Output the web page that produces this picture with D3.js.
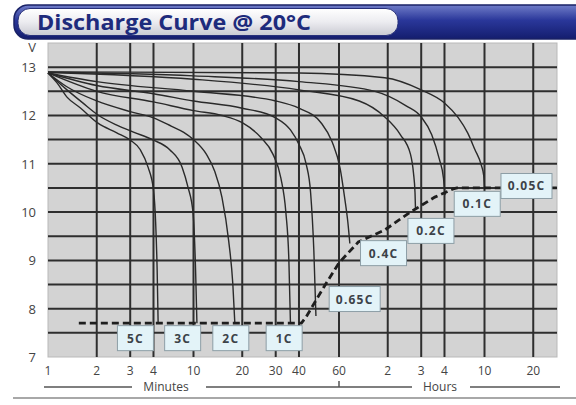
<!DOCTYPE html>
<html>
<head>
<meta charset="utf-8">
<script src="https://cdn.jsdelivr.net/npm/d3@7"></script>
<style>
  body { margin: 0; background: #fff; }
  svg { display: block; font-family: "Open Sans", "DejaVu Sans", sans-serif; }
</style>
</head>
<body>
<svg width="576" height="405"></svg>
<script>
// time axis ticks, in minutes
var xTickMinutes = [1, 2, 3, 4, 10, 20, 30, 40, 60, 120, 180, 240, 600, 1200];
var xTickLabels = ['1', '2', '3', '4', '10', '20', '30', '40', '60', '2', '3', '4', '10', '20'];
var yTicks = [7, 8, 9, 10, 11, 12, 13];

// discharge rates and curves: [minutes, volts]
var rates = ['5C', '3C', '2C', '1C', '0.65C', '0.4C', '0.2C', '0.1C', '0.05C'];
var curve5C = [[1, 12.88], [1.14, 12.67], [1.31, 12.38], [1.58, 12.16], [2.03, 11.84], [2.55, 11.64], [3, 11.49], [3.4, 11.29], [3.74, 10.93], [4, 10.46], [4.2, 9.8], [4.35, 8.8], [4.45, 7.7]];
var curve3C = [[1, 12.88], [1.31, 12.53], [1.64, 12.26], [2.03, 12.01], [2.55, 11.8], [3.1, 11.66], [4, 11.49], [5.8, 11.29], [7.7, 10.93], [8.8, 10.52], [9.9, 9.98], [10.3, 8.8], [10.5, 7.7]];
var curve2C = [[1, 12.88], [1.3, 12.6], [2, 12.3], [3, 12.08], [4, 11.95], [6, 11.78], [8, 11.65], [10, 11.5], [12, 11.2], [13.5, 10.85], [15, 10.3], [16.5, 9.4], [17.5, 8.5], [18, 7.7]];
var curve1C = [[1, 12.88], [2, 12.5], [4, 12.28], [10, 12.1], [15, 12.0], [20, 11.85], [25, 11.55], [29, 11.2], [32, 10.7], [34, 10.0], [35.3, 9.0], [36, 7.7]];
var curve065C = [[1, 12.88], [2, 12.62], [4, 12.45], [10, 12.3], [20, 12.15], [30, 11.95], [36, 11.7], [40, 11.4], [43, 11.0], [45, 10.4], [46.5, 9.2], [47.5, 7.85]];
var curve04C = [[1, 12.88], [2, 12.7], [10, 12.5], [30, 12.3], [40, 12.15], [50, 11.85], [56, 11.45], [61, 10.9], [65, 10.3], [68, 9.8], [70, 9.35]];
var curve02C = [[1, 12.89], [10, 12.75], [40, 12.53], [80, 12.3], [115, 11.97], [140, 11.6], [158, 11.2], [164, 10.8], [167, 10.4], [168, 10.05]];
var curve01C = [[1, 12.9], [10, 12.82], [40, 12.7], [100, 12.5], [150, 12.2], [180, 11.97], [205, 11.6], [225, 11.1], [237, 10.7], [243, 10.35]];
var curve005C = [[1, 12.9], [40, 12.88], [115, 12.78], [180, 12.53], [240, 12.26], [330, 11.95], [408, 11.64], [480, 11.3], [558, 10.97], [590, 10.75], [600, 10.5]];
var curves = [curve5C, curve3C, curve2C, curve1C, curve065C, curve04C, curve02C, curve01C, curve005C];

// end-of-discharge (dashed) line
var endLine = [[1.55, 7.7], [41, 7.7], [43, 7.83], [51.5, 8.45], [60, 8.95], [79, 9.38], [115, 9.63], [158, 10.0], [213, 10.31], [293, 10.48], [320, 10.5], [1700, 10.5]];

// where the rate labels sit (minutes, volts)
var labelMinutes = [3.2, 7.8, 17, 33.3, 75, 113, 203, 508, 1090];
var labelVolts = [7.39, 7.39, 7.39, 7.39, 8.2, 9.15, 9.61, 10.17, 10.54];

var svg = d3.select('svg');
var plot = {l: 48, r: 557, t: 43, b: 357};

// the printed grid gives every "decade" the same width, with 2,3,4 at these fractions
var decade = 145.5;
var inDecade = [0, 0.335, 0.565, 0.725];
var xRange = [];
for (var s = 0; s < 3; s++) {
    inDecade.forEach(function(f) { xRange.push(plot.l + (s + f) * decade); });
}
xRange.push(plot.l + 3 * decade, plot.l + (3 + inDecade[1]) * decade);
// 1,2,3,4 | 10,20,30,40 | 60,120,180,240 | 600,1200
var x = d3.scaleLog().domain(xTickMinutes).range(xRange);

var y = d3.scaleLinear().domain([7, 13.5]).range([plot.b, plot.t]);

// header bar
var defs = svg.append('defs');
var gBlue = defs.append('linearGradient').attr('id', 'gBlue').attr('x1', 0).attr('y1', 0).attr('x2', 0).attr('y2', 1);
gBlue.append('stop').attr('offset', 0).attr('stop-color', '#6f7cc8');
gBlue.append('stop').attr('offset', 0.45).attr('stop-color', '#2a379a');
gBlue.append('stop').attr('offset', 1).attr('stop-color', '#141d6e');
var gLight = defs.append('linearGradient').attr('id', 'gLight').attr('x1', 0).attr('y1', 0).attr('x2', 0).attr('y2', 1);
gLight.append('stop').attr('offset', 0).attr('stop-color', '#ffffff');
gLight.append('stop').attr('offset', 0.5).attr('stop-color', '#ececf0');
gLight.append('stop').attr('offset', 1).attr('stop-color', '#c9cad2');

svg.append('rect')
    .attr('x', 14).attr('y', 5).attr('width', 580).attr('height', 34)
    .attr('rx', 14).attr('ry', 14)
    .attr('fill', 'url(#gBlue)').attr('stroke', '#1a2266').attr('stroke-width', 1.5);
svg.append('rect')
    .attr('x', 18).attr('y', 8.5).attr('width', 380).attr('height', 27)
    .attr('rx', 12).attr('ry', 12)
    .attr('fill', 'url(#gLight)').attr('stroke', '#27307a').attr('stroke-width', 1);
svg.append('text')
    .attr('x', 37).attr('y', 30)
    .attr('fill', '#1e2b7c')
    .style('font-size', '21px').style('font-weight', 'bold')
    .attr('textLength', 274).attr('lengthAdjust', 'spacingAndGlyphs')
    .text('Discharge Curve @ 20°C');

// plot background
svg.append('rect')
    .attr('x', plot.l).attr('y', plot.t)
    .attr('width', plot.r - plot.l).attr('height', plot.b - plot.t)
    .attr('fill', '#d3d3d3').attr('stroke', '#b9b9b9').attr('stroke-width', 1);

// grid
var gridG = svg.append('g').attr('stroke', '#2e2e2e').attr('stroke-width', 2);
gridG.selectAll('.hgrid')
    .data(d3.range(7.5, 13.01, 0.5))
    .enter().append('line')
    .attr('class', 'hgrid')
    .attr('x1', plot.l).attr('x2', plot.r)
    .attr('y1', function(d) { return y(d); })
    .attr('y2', function(d) { return y(d); });
gridG.selectAll('.vgrid')
    .data(xTickMinutes.slice(1))
    .enter().append('line')
    .attr('class', 'vgrid')
    .attr('y1', plot.t).attr('y2', plot.b)
    .attr('x1', function(d) { return x(d); })
    .attr('x2', function(d) { return x(d); });

// y tick labels
svg.append('text').attr('x', 36).attr('y', 52).attr('text-anchor', 'end')
    .attr('fill', '#444').style('font-size', '13px').text('V');
svg.selectAll('.ylab')
    .data(yTicks)
    .enter().append('text')
    .attr('class', 'ylab')
    .attr('x', 36)
    .attr('y', function(d) { return y(d) + 5; })
    .attr('text-anchor', 'end')
    .attr('fill', '#444').style('font-size', '13px')
    .text(function(d) { return d; });

// x tick labels
svg.selectAll('.xlab')
    .data(xTickMinutes)
    .enter().append('text')
    .attr('class', 'xlab')
    .attr('x', function(d) { return x(d); })
    .attr('y', 375)
    .attr('text-anchor', 'middle')
    .attr('fill', '#444').style('font-size', '12px')
    .text(function(d, i) { return xTickLabels[i]; });

// Minutes / Hours bracket lines
var unitG = svg.append('g').attr('stroke', '#555').attr('stroke-width', 1.5);
unitG.append('line').attr('x1', 44).attr('x2', 132).attr('y1', 387).attr('y2', 387);
unitG.append('line').attr('x1', 206).attr('x2', 412).attr('y1', 387).attr('y2', 387);
unitG.append('line').attr('x1', x(60)).attr('x2', x(60)).attr('y1', 381).attr('y2', 387);
unitG.append('line').attr('x1', 470).attr('x2', 560).attr('y1', 387).attr('y2', 387);
svg.append('text').attr('x', 166).attr('y', 391).attr('text-anchor', 'middle')
    .attr('fill', '#444').style('font-size', '12px').text('Minutes');
svg.append('text').attr('x', 440).attr('y', 391).attr('text-anchor', 'middle')
    .attr('fill', '#444').style('font-size', '12px').text('Hours');
svg.append('line').attr('x1', 13).attr('x2', 576).attr('y1', 398).attr('y2', 398)
    .attr('stroke', '#a8a8a8').attr('stroke-width', 2);

// curves
var line = d3.line()
    .x(function(d) { return x(d[0]); })
    .y(function(d) { return y(d[1]); })
    .curve(d3.curveMonotoneX);

svg.append('g').selectAll('.curve')
    .data(curves)
    .enter().append('path')
    .attr('class', 'curve')
    .attr('d', line)
    .attr('fill', 'none')
    .attr('stroke', '#2a2a2a')
    .attr('stroke-width', 1.4);

// end-of-discharge dashed line
svg.append('path')
    .attr('d', d3.line().x(function(d) { return x(d[0]); }).y(function(d) { return y(d[1]); })(endLine))
    .attr('fill', 'none')
    .attr('stroke', '#1e1e1e')
    .attr('stroke-width', 2.8)
    .attr('stroke-dasharray', '7,4');

// rate labels
var labels = svg.append('g').selectAll('.rate')
    .data(rates)
    .enter().append('g')
    .attr('class', 'rate')
    .attr('transform', function(d, i) { return 'translate(' + x(labelMinutes[i]) + ',' + y(labelVolts[i]) + ')'; });

labels.append('rect')
    .attr('x', function(d) { return -(26 + 5 * d.length) / 2; })
    .attr('y', -12.5)
    .attr('width', function(d) { return 26 + 5 * d.length; })
    .attr('height', 25)
    .attr('fill', '#e3f3f8')
    .attr('stroke', '#8d9ea6')
    .attr('stroke-width', 1);

labels.append('text')
    .attr('y', 4.5)
    .attr('text-anchor', 'middle')
    .attr('fill', '#3c4248')
    .style('font-size', '12px').style('font-weight', 'bold')
    .style('letter-spacing', '1.2px')
    .text(function(d) { return d; });
</script>
</body>
</html>
